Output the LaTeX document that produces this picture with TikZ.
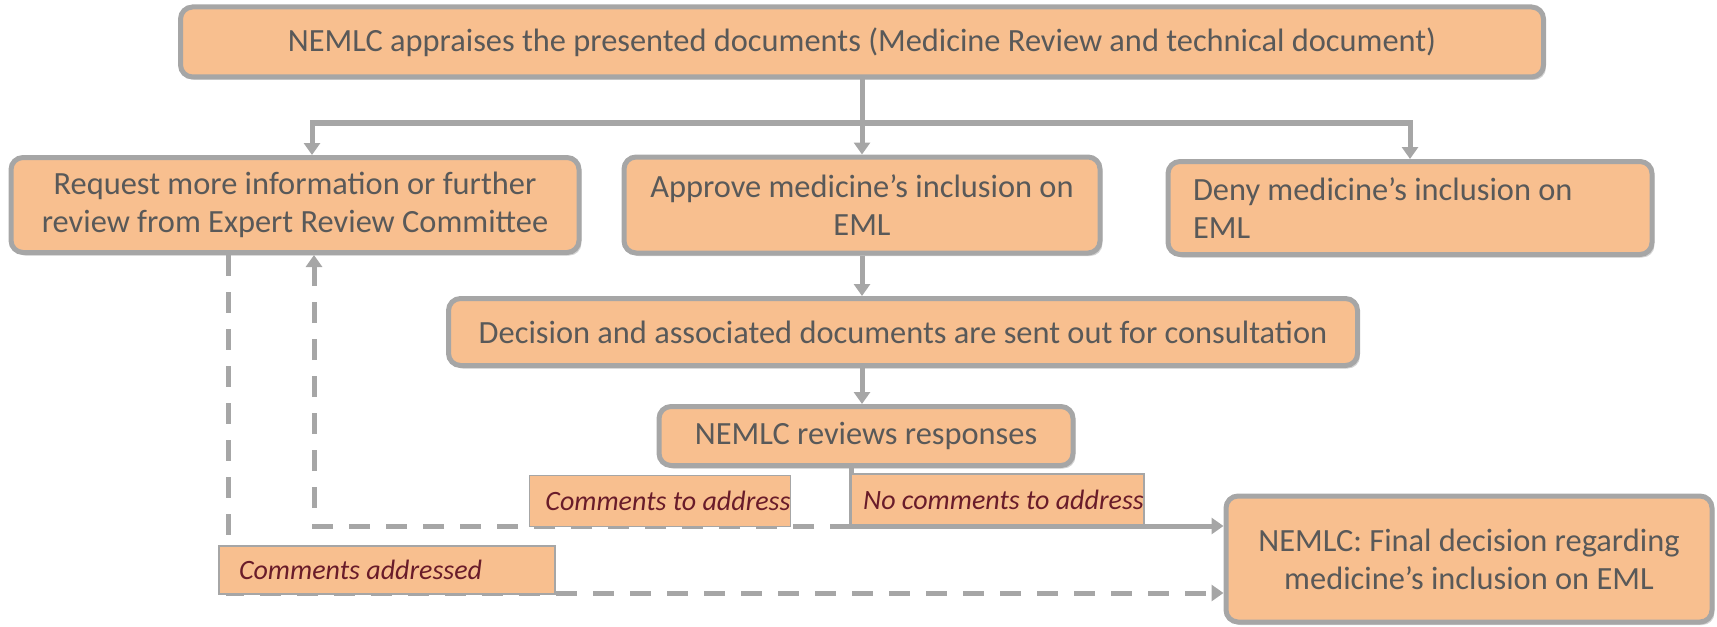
\documentclass[tikz,border=0pt]{standalone}
\usepackage{fontspec}
\setmainfont{Carlito}
\usepackage{tikz}
\usetikzlibrary{calc}
\usetikzlibrary{arrows.meta}
\usetikzlibrary{shadows}
\usepackage{color}
\definecolor{apricot}{RGB}{248, 191, 143}
\definecolor{ashgray}{RGB}{166, 166, 166}
\definecolor{slate}{RGB}{89, 89, 89}
\definecolor{burgundy}{RGB}{105, 28, 42}

\tikzset{
    stepbox/.style={draw=ashgray, line width=2.5pt, fill=apricot, rounded corners=6pt,
        text=slate, align=center, inner sep=0pt,
        font=\fontsize{16.2}{19}\selectfont,
        drop shadow={shadow xshift=1.2pt, shadow yshift=-1.5pt, opacity=0.35}},
    tagbox/.style={draw=ashgray, line width=0.8pt, fill=apricot, inner sep=0pt,
        text=burgundy, font=\fontsize{14}{17}\selectfont\itshape},
    flow/.style={draw=ashgray, line width=2.5pt},
    flowarrow/.style={flow, -{Triangle[width=8pt,length=6pt]}},
    backarrow/.style={flowarrow, dash pattern=on 10.5pt off 8pt}
}

\begin{document}
\begin{tikzpicture}[x=0.5pt, y=-0.5pt]
            % Frame to fix the page size
            \useasboundingbox (0,0) rectangle (1717,626);
            % Connectors first, boxes on top
            \coordinate (split) at (862,123);
            \coordinate (fork)  at (851,526);
            % Boxes
            \node[stepbox, minimum width=681.5pt, minimum height=35pt] (top) at (862,42)
                 {NEMLC appraises the presented documents (Medicine Review and technical document)};
            \node[stepbox, minimum width=284pt, minimum height=47.5pt] (req) at (295,205)
                 {Request more information or further\\review from Expert Review Committee};
            \node[stepbox, minimum width=238pt, minimum height=48pt] (appr) at (862,205)
                 {Approve medicine’s inclusion on\\EML};
            \node[stepbox, minimum width=242pt, minimum height=46.5pt, text width=217pt, align=flush left] (deny) at (1410,208)
                 {Deny medicine’s inclusion on\\EML};
            \node[stepbox, minimum width=454.5pt, minimum height=33.5pt] (dec) at (903,332)
                 {Decision and associated documents are sent out for consultation};
            \node[stepbox, minimum width=207pt, minimum height=29.5pt] (rev) at (866,436)
                 {NEMLC reviews responses};
            \node[stepbox, minimum width=243pt, minimum height=63pt] (final) at (1469,559)
                 {NEMLC: Final decision regarding\\medicine’s inclusion on EML};
            % Branches from the appraisal
            \draw[flow]      (top.south) -- (split);
            \draw[flowarrow] (split) -| ([xshift=8.5pt]req.north);
            \draw[flowarrow] (split) -| (deny.north);
            \draw[flowarrow] (split) -- (appr.north);
            % Consultation
            \draw[flowarrow] (appr.south) -- (appr.south |- dec.north);
            \draw[flowarrow] (dec.south -| appr.south) -- (appr.south |- rev.north);
            % Outcomes of the review
            \draw[flow]      ([xshift=-7.5pt]rev.south) -- (fork);
            \draw[flowarrow] (fork) -- (fork -| final.west);
            \draw[backarrow] (fork) -| ([xshift=9.5pt]req.south);
            \draw[backarrow] ([xshift=-33.5pt]req.south) |- ([yshift=-17pt]final.west);
            % Labels on the connectors
            \node[tagbox, minimum width=129pt, minimum height=25.5pt] (ctoa) at (660,501)
                 {\hspace*{8pt}Comments to address};
            \node[tagbox, minimum width=146.5pt, minimum height=25.5pt] (noc) at (997.5,499.5)
                 {\hspace*{6pt}No comments to address};
            \node[tagbox, minimum width=168pt, minimum height=24pt, text width=148pt, inner xsep=10pt, align=flush left] (cadd) at (387,570)
                 {Comments addressed};
        \end{tikzpicture}
\end{document}
